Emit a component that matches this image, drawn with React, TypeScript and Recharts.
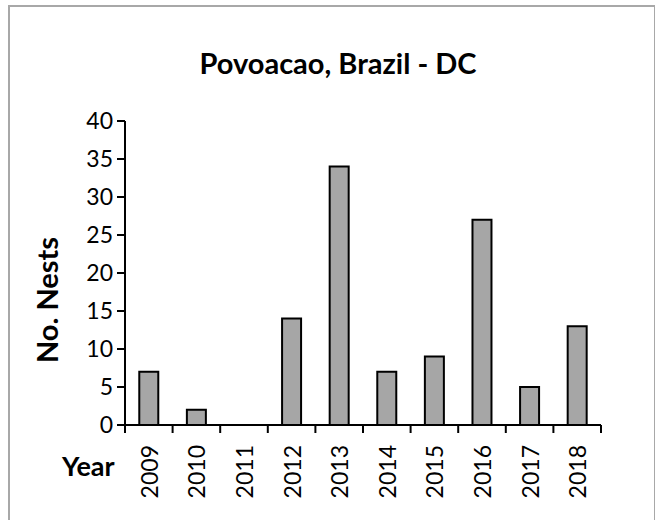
import React from 'react';
import { BarChart, Bar, XAxis, YAxis } from 'recharts';

const years = ['2009', '2010', '2011', '2012', '2013', '2014', '2015', '2016', '2017', '2018'];
const nests = [7, 2, 0, 14, 34, 7, 9, 27, 5, 13];
const yTicks = [0, 5, 10, 15, 20, 25, 30, 35, 40];
const title = 'Povoacao, Brazil - DC';
const yTitle = 'No. Nests';
const xTitle = 'Year';

const data = years.map((y, i) => ({ year: y, nests: nests[i] }));

const FONT = 'Lato, "Open Sans", sans-serif';
const PLOT_W = 648 - 117 - 55;

const XTick = (props: any) => {
  const { x, y, payload, index } = props;
  const half = payload && payload.offset ? payload.offset : PLOT_W / years.length / 2;
  const axisY = y - 2;
  const ty = y + 10;
  return (
    <g>
      <line x1={x - half} x2={x - half} y1={axisY - 8} y2={axisY} stroke="#000" strokeWidth={2} />
      {index === years.length - 1 ? (
        <line x1={x + half} x2={x + half} y1={axisY - 8} y2={axisY} stroke="#000" strokeWidth={2} />
      ) : null}
      <text
        x={x}
        y={ty}
        transform={`rotate(-90 ${x} ${ty})`}
        textAnchor="end"
        dominantBaseline="central"
        fontFamily={FONT}
        fontSize={23}
        fill="#000"
      >
        {payload.value}
      </text>
    </g>
  );
};

export default function App() {
  return (
    <div style={{ position: 'absolute', left: 8, top: 5, width: 648, height: 520 }}>
      <div
        style={{
          position: 'absolute',
          left: 0,
          top: 0,
          width: 648,
          height: 520,
          border: '2px solid #a8a8a8',
          boxSizing: 'border-box',
        }}
      />
      <BarChart
        width={648}
        height={520}
        data={data}
        margin={{ top: 116, right: 55, left: 0, bottom: 0 }}
        barCategoryGap="30%"
      >
        <XAxis
          dataKey="year"
          height={100}
          tickSize={8}
          tickMargin={2}
          tickLine={false}
          axisLine={{ stroke: '#000', strokeWidth: 2 }}
          tick={<XTick />}
          interval={0}
        />
        <YAxis
          width={117}
          domain={[0, 40]}
          ticks={yTicks}
          interval={0}
          tickSize={8}
          tickMargin={4}
          axisLine={{ stroke: '#000', strokeWidth: 2 }}
          tickLine={{ stroke: '#000', strokeWidth: 2 }}
          tick={{ fontFamily: FONT, fontSize: 23, fill: '#000' }}
        />
        <Bar
          dataKey="nests"
          fill="#a6a6a6"
          stroke="#000"
          strokeWidth={2}
          isAnimationActive={false}
        />
      </BarChart>
      <div
        style={{
          position: 'absolute',
          left: 330 - 200,
          width: 400,
          top: 58 - 20,
          height: 40,
          lineHeight: '40px',
          textAlign: 'center',
          fontFamily: FONT,
          fontWeight: 'bold',
          fontSize: 29,
          color: '#000',
        }}
      >
        {title}
      </div>
      <div
        style={{
          position: 'absolute',
          left: 39 - 100,
          top: 295 - 20,
          width: 200,
          height: 40,
          lineHeight: '40px',
          textAlign: 'center',
          transform: 'rotate(-90deg)',
          fontFamily: FONT,
          fontWeight: 'bold',
          fontSize: 29,
          color: '#000',
        }}
      >
        {yTitle}
      </div>
      <div
        style={{
          position: 'absolute',
          left: 54,
          top: 461 - 20,
          height: 40,
          lineHeight: '40px',
          fontFamily: FONT,
          fontWeight: 'bold',
          fontSize: 27,
          color: '#000',
        }}
      >
        {xTitle}
      </div>
    </div>
  );
}
